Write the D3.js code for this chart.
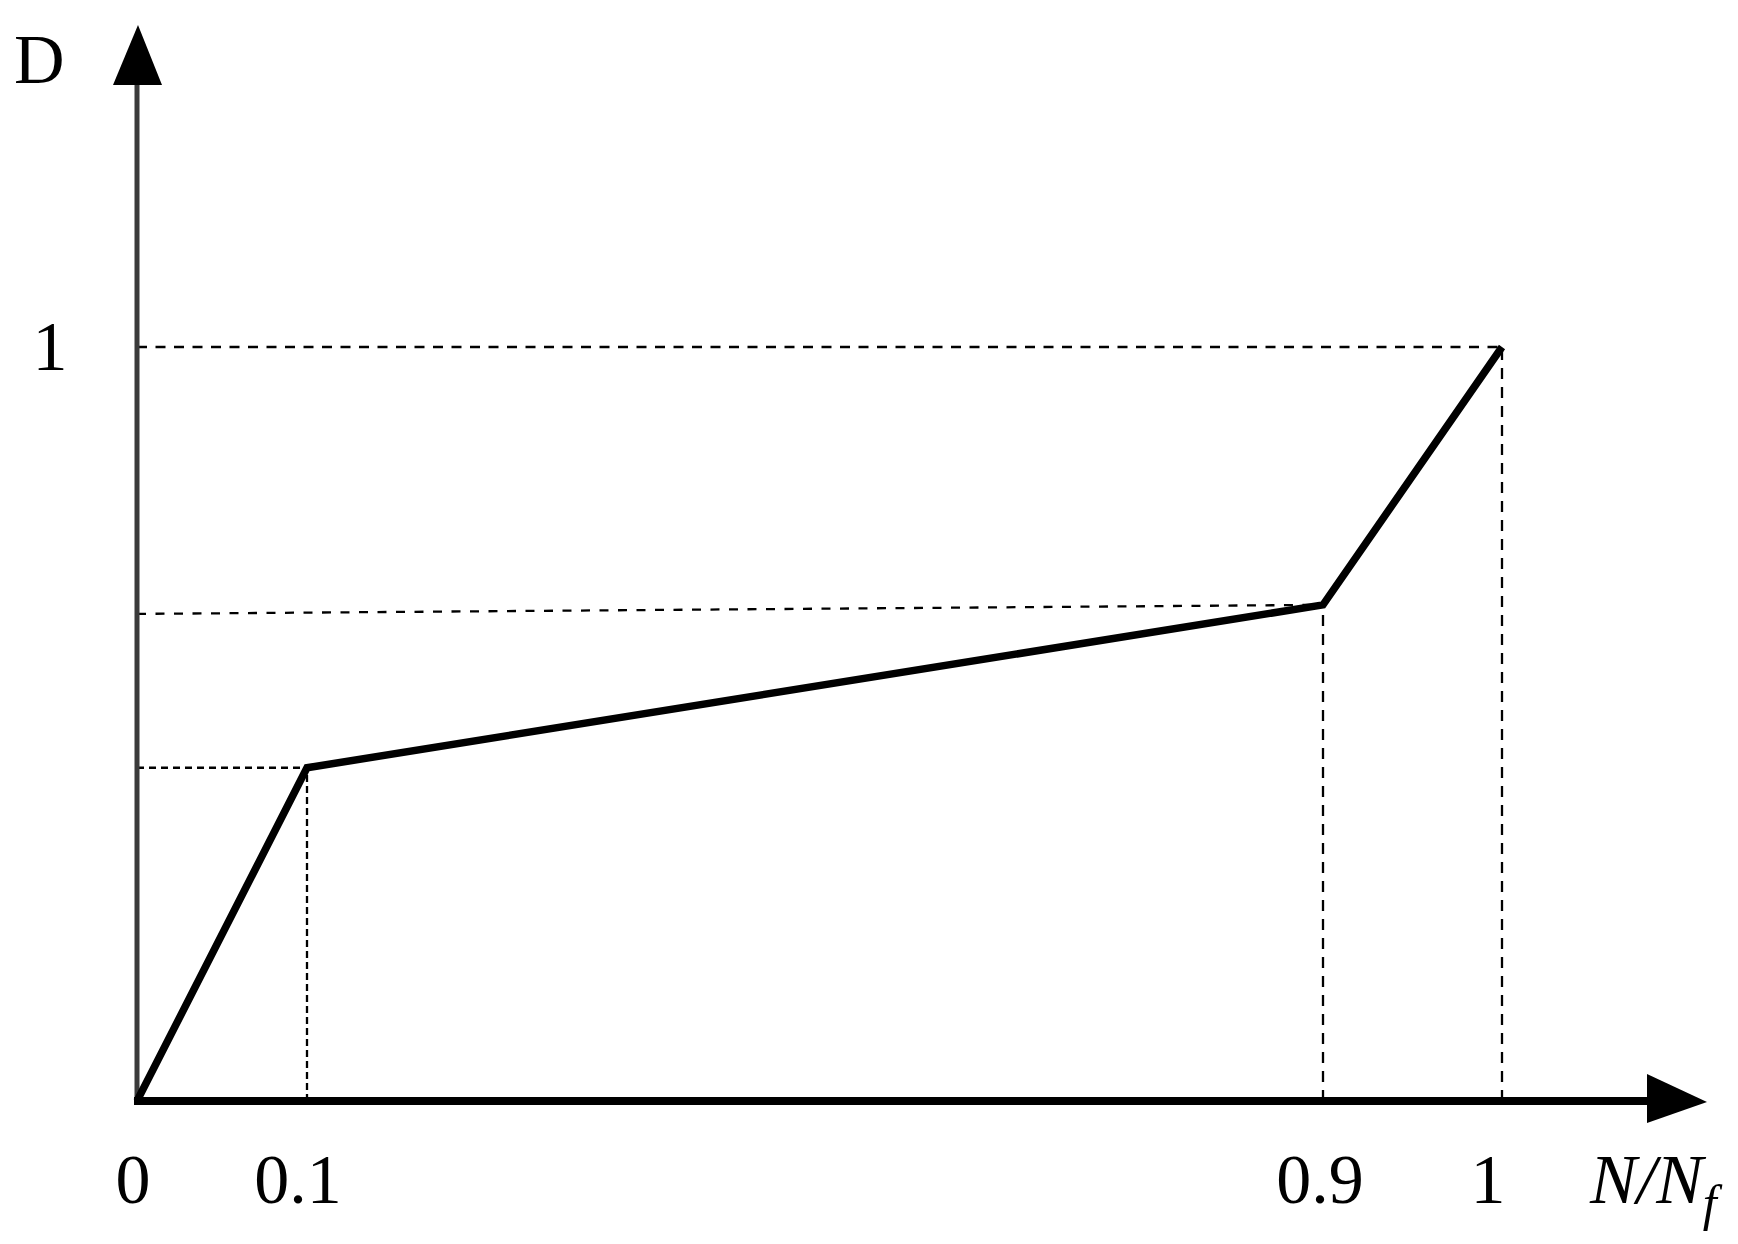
<!DOCTYPE html>
<html>
<head>
<meta charset="utf-8">
<script src="https://cdn.jsdelivr.net/npm/d3@7"></script>
<style>
  body { margin: 0; background: #fff; }
  text { font-family: "Liberation Serif", "Times New Roman", serif; fill: #000; }
</style>
</head>
<body>
<script>
// damage D against life fraction N/Nf (three-stage schematic)
var xTicks = [0, 0.1, 0.9, 1];
var xTickLabels = ["0", "0.1", "0.9", "1"];
var yTicks = [1];
var yTickLabels = ["1"];

// damage curve points
var lifeFrac = [0, 0.1, 0.9, 1];
var damage = [0, 0.442, 0.658, 1];

// dashed guides: [x0, y0, x1, y1] in data units
var guides = [
    [0, 1, 1, 1],
    [1, 0, 1, 1],
    [0, 0.646, 0.9, 0.658],
    [0.9, 0, 0.9, 0.658],
    [0, 0.442, 0.1, 0.442],
    [0.1, 0, 0.1, 0.442]
];
var guideDash = ["10,8.5", "11,8", "9,9.5", "11,8", "7,5", "7,4"];

var width = 1738,
    height = 1244;

var svg = d3.select("body").append("svg")
    .attr("width", width)
    .attr("height", height);

// the axis is schematic: the 0.1 and 0.9 marks are not to scale
var x = d3.scaleLinear()
    .domain(xTicks)
    .range([137, 307, 1323, 1502]);

var y = d3.scaleLinear()
    .domain([0, 1])
    .range([1101, 347]);

var x0 = x(0), y0 = y(0);
var xEnd = 1647, yEnd = 85;

// guides
svg.append("g")
    .selectAll("line")
    .data(guides)
    .enter().append("line")
    .attr("x1", function(d) { return x(d[0]); })
    .attr("y1", function(d) { return y(d[1]); })
    .attr("x2", function(d) { return x(d[2]); })
    .attr("y2", function(d) { return y(d[3]); })
    .attr("stroke", "#000")
    .attr("stroke-width", 2.3)
    .attr("stroke-dasharray", function(d, i) { return guideDash[i]; });

// y axis
svg.append("line")
    .attr("x1", x0).attr("y1", y0)
    .attr("x2", x0).attr("y2", yEnd)
    .attr("stroke", "#3a3a3a")
    .attr("stroke-width", 5);
svg.append("path")
    .attr("d", "M" + (x0 - 24) + "," + yEnd + "L" + (x0 + 25) + "," + yEnd + "L" + (x0 + 1) + "," + (yEnd - 60) + "Z")
    .attr("fill", "#000");

// x axis
svg.append("line")
    .attr("x1", x0 - 3).attr("y1", y0)
    .attr("x2", xEnd).attr("y2", y0)
    .attr("stroke", "#000")
    .attr("stroke-width", 8);
svg.append("path")
    .attr("d", "M" + xEnd + "," + (y0 - 27) + "L" + xEnd + "," + (y0 + 22) + "L" + (xEnd + 60) + "," + (y0 + 1) + "Z")
    .attr("fill", "#000");

// damage curve
var line = d3.line()
    .x(function(d, i) { return x(lifeFrac[i]); })
    .y(function(d) { return y(d); });

svg.append("path")
    .datum(damage)
    .attr("d", line)
    .attr("fill", "none")
    .attr("stroke", "#000")
    .attr("stroke-width", 7.5)
    .attr("stroke-linejoin", "miter");

// tick labels
var xLabelShift = [-4, -9, -3, -14];
svg.append("g")
    .selectAll("text")
    .data(xTicks)
    .enter().append("text")
    .attr("x", function(d, i) { return x(d) + xLabelShift[i]; })
    .attr("y", 1203)
    .attr("text-anchor", "middle")
    .style("font-size", "70px")
    .text(function(d, i) { return xTickLabels[i]; });

svg.append("g")
    .selectAll("text")
    .data(yTicks)
    .enter().append("text")
    .attr("x", 50)
    .attr("y", function(d) { return y(d) + 23; })
    .attr("text-anchor", "middle")
    .style("font-size", "70px")
    .text(function(d, i) { return yTickLabels[i]; });

// axis titles
svg.append("text")
    .attr("x", 14)
    .attr("y", 83)
    .style("font-size", "70px")
    .text("D");

var xt = svg.append("text")
    .attr("x", 1590)
    .attr("y", 1203)
    .style("font-size", "70px")
    .style("font-style", "italic");
xt.append("tspan").text("N/N");
xt.append("tspan")
    .attr("dy", 17)
    .style("font-size", "50px")
    .text("f");
</script>
</body>
</html>
